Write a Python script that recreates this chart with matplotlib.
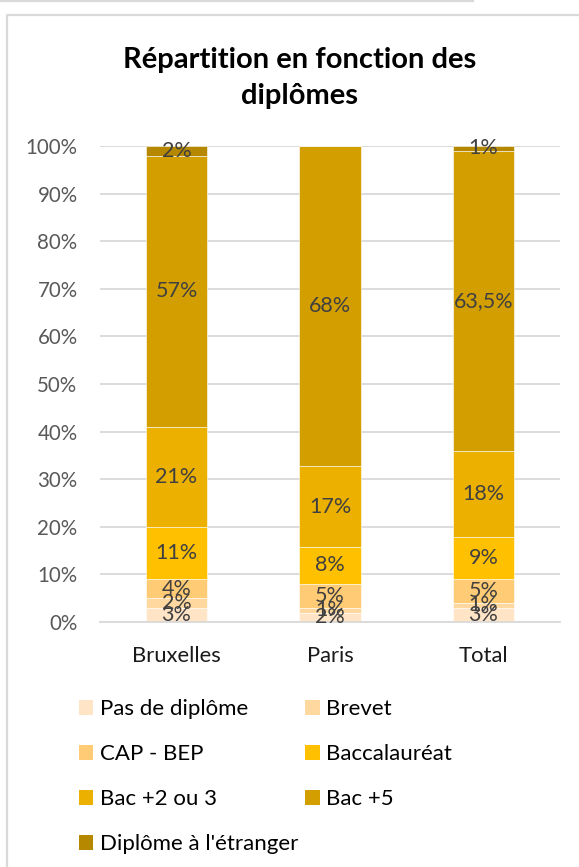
import matplotlib
matplotlib.use("Agg")
import matplotlib.pyplot as plt
from matplotlib.patches import Patch
from matplotlib.lines import Line2D
import numpy as np

plt.rcParams["font.family"] = ["Lato", "DejaVu Sans"]

# Data
villes = ["Bruxelles", "Paris", "Total"]
niveaux = ["Pas de diplôme", "Brevet", "CAP - BEP", "Baccalauréat",
           "Bac +2 ou 3", "Bac +5", "Diplôme à l'étranger"]
pas_de_diplome = [3, 2, 3]
brevet = [2, 1, 1]
cap_bep = [4, 5, 5]
baccalaureat = [11, 8, 9]
bac_2_3 = [21, 17, 18]
bac_5 = [57, 68, 63.5]
etranger = [2, 0, 1]
y_ticks = [0, 10, 20, 30, 40, 50, 60, 70, 80, 90, 100]

series = [pas_de_diplome, brevet, cap_bep, baccalaureat, bac_2_3, bac_5, etranger]
couleurs = ["#FFE4C6", "#FFD8A0", "#FFCB74", "#FFC000",
            "#EBB000", "#D39F00", "#B58800"]

W, H = 579, 867
fig = plt.figure(figsize=(W / 100, H / 100), dpi=100)

# chart frame lines
fig.add_artist(Line2D([0, 473 / W], [1 - 0.8 / H, 1 - 0.8 / H],
                      transform=fig.transFigure, color="#d9d9d9", lw=1.6))
fig.add_artist(Line2D([6.8 / W, 6.8 / W, 1], [0, 1 - 14.5 / H, 1 - 14.5 / H],
                      transform=fig.transFigure, color="#d9d9d9", lw=1.6))

ax = fig.add_axes([99.75 / W, (H - 622) / H, 460.5 / W, 476 / H])

data = np.array(series, dtype=float)
totaux = data.sum(axis=0)
parts = data / totaux * 100
x = np.arange(len(villes))
bas = np.zeros(len(villes))
for vals, pct, nom, c in zip(data, parts, niveaux, couleurs):
    ax.bar(x, pct, 0.4, bottom=bas, color=c, label=nom,
           edgecolor="white", linewidth=0.4, zorder=2)
    for xi, v, p, b in zip(x, vals, pct, bas):
        if v > 0:
            txt = (f"{v:g}".replace(".", ",")) + "%"
            ax.text(xi, b + p / 2, txt, ha="center", va="center",
                    fontsize=15.5, color="#404040", zorder=3)
    bas += pct

ax.set_xlim(-0.5, 2.5)
ax.set_ylim(0, 100)
ax.set_yticks(y_ticks)
ax.set_yticklabels([f"{t}%" for t in y_ticks])
ax.set_xticks(x)
ax.set_xticklabels(villes)
ax.yaxis.grid(True, color="#d9d9d9", lw=1.3, zorder=0)
ax.set_axisbelow(True)
for s in ["top", "right", "left"]:
    ax.spines[s].set_visible(False)
ax.spines["bottom"].set_color("#d9d9d9")
ax.spines["bottom"].set_linewidth(1.3)
ax.tick_params(axis="both", length=0)
ax.tick_params(axis="y", labelsize=14.8, labelcolor="#595959", pad=16)
ax.tick_params(axis="x", labelsize=15.8, labelcolor="#1a1a1a", pad=17)

fig.text(300 / W, 1 - 78 / H, "Répartition en fonction des\ndiplômes",
         ha="center", va="center", fontsize=21, fontweight="bold",
         color="#000000", linespacing=1.45)

handles = [Patch(facecolor=c, edgecolor="none") for c in couleurs]
order = [0, 2, 4, 6, 1, 3, 5]
fig.legend([handles[i] for i in order], [niveaux[i] for i in order],
           ncol=2, loc="upper left", bbox_to_anchor=(79 / W, 1 - 699 / H),
           frameon=False, fontsize=16, handlelength=0.65, handleheight=0.65,
           handletextpad=0.3, labelspacing=1.13, columnspacing=0.3,
           borderpad=0, borderaxespad=0)

fig.savefig("out.png", dpi=100, facecolor="white")
